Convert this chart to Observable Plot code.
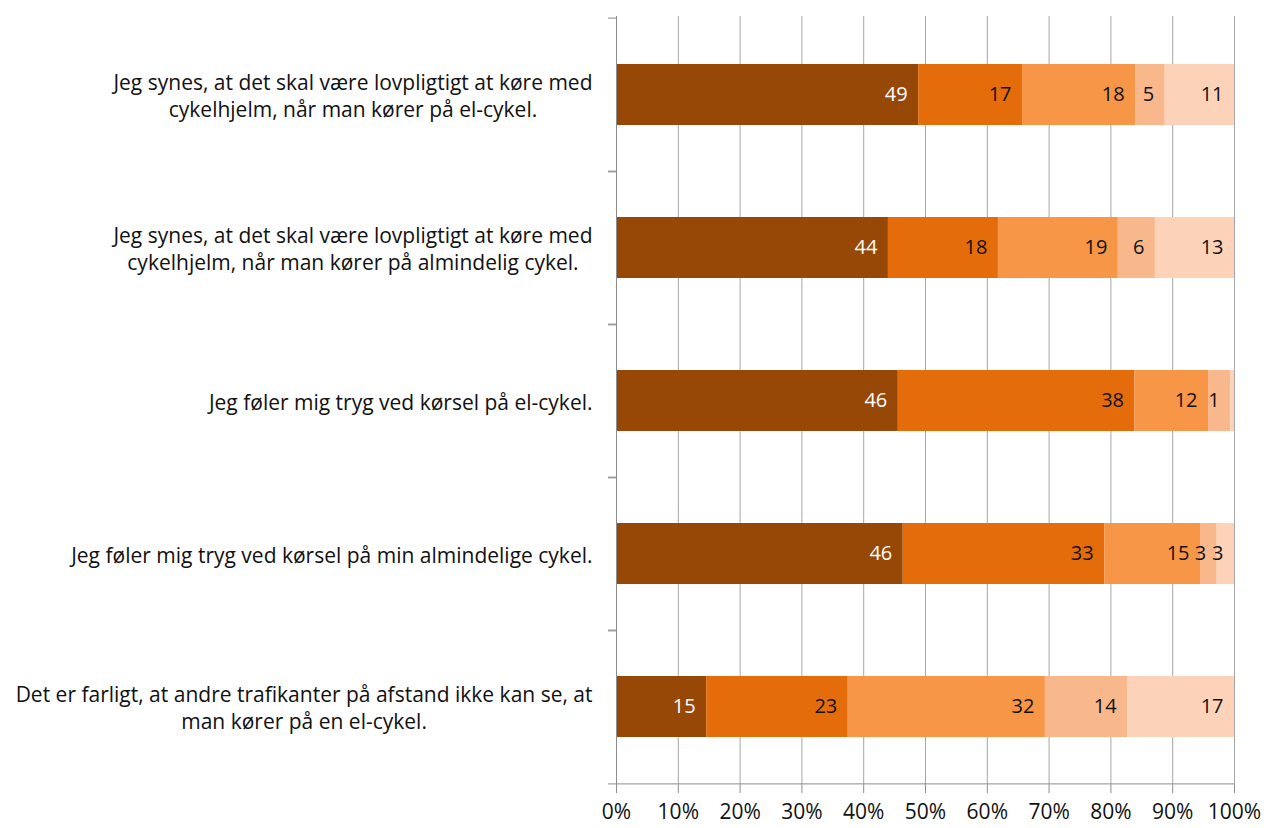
<!DOCTYPE html>
<html><head><meta charset="utf-8">
<script src="https://cdn.jsdelivr.net/npm/d3@7"></script>
<script src="https://cdn.jsdelivr.net/npm/@observablehq/plot@0.6"></script>
<style>body{margin:0;background:#fff;}</style>
</head><body><div id="chart"></div>
<script>
const categories = [
  "Jeg synes, at det skal være lovpligtigt at køre med\ncykelhjelm, når man kører på el-cykel.",
  "Jeg synes, at det skal være lovpligtigt at køre med\ncykelhjelm, når man kører på almindelig cykel.",
  "Jeg føler mig tryg ved kørsel på el-cykel.",
  "Jeg føler mig tryg ved kørsel på min almindelige cykel.",
  "Det er farligt, at andre trafikanter på afstand ikke kan se, at\nman kører på en el-cykel."
];
const seriesKeys = ["s1", "s2", "s3", "s4", "s5"];
const seriesColors = ["#974706", "#E46C0A", "#F79646", "#F9B88C", "#FCD3B8"];

// segment shares (percent of bar)
const s1 = [48.9, 44.0, 45.6, 46.4, 14.6];
const s2 = [16.8, 17.8, 38.3, 32.6, 22.9];
const s3 = [18.3, 19.4, 11.9, 15.5, 31.9];
const s4 = [4.8, 6.0, 3.6, 2.7, 13.3];
const s5 = [11.2, 12.8, 0.6, 2.8, 17.3];

// printed data labels
const l1 = [49, 44, 46, 46, 15];
const l2 = [17, 18, 38, 33, 23];
const l3 = [18, 19, 12, 15, 32];
const l4 = [5, 6, 1, 3, 14];
const l5 = [11, 13, null, 3, 17];

const xTicks = [0, 10, 20, 30, 40, 50, 60, 70, 80, 90, 100];

const values = [s1, s2, s3, s4, s5];
const labels = [l1, l2, l3, l4, l5];
const rows = categories.flatMap((c, i) => seriesKeys.map((k, j) => ({
  category: c, series: k, value: values[j][i], label: labels[j][i]
})));

const W = 1268, H = 828, mL = 616, mR = 34, mT = 16, mB = 43;
const step = (H - mT - mB) / categories.length;
const axisColor = "#8c8c8c";
const family = "Open Sans";

// size the category font so the longest line spans the same width as in the reference
const ctx = document.createElement("canvas").getContext("2d");
ctx.font = `20px '${family}'`;
const longest = d3.max(categories.flatMap(c => c.split("\n")), l => ctx.measureText(l).width);
const catFont = Math.min(21, 20 * 580 / longest);
ctx.font = `${catFont}px '${family}'`;
const blockWidth = c => d3.max(c.split("\n"), l => ctx.measureText(l).width);

const catMarks = categories.map(c => Plot.text([c], {
  y: d => d, text: d => d, frameAnchor: "left", textAnchor: "middle",
  dx: -(24 + blockWidth(c) / 2), lineHeight: 1.27, fontSize: catFont, fill: "#111"
}));

const chart = Plot.plot({
  width: W, height: H,
  marginLeft: mL, marginRight: mR, marginTop: mT, marginBottom: mB,
  style: {fontFamily: family, fontSize: "20px", background: "#fff", color: "#111"},
  x: {domain: [0, 100], ticks: xTicks, tickFormat: d => d + "%"},
  y: {domain: categories, paddingInner: 0.6, paddingOuter: 0.3, axis: null},
  color: {domain: seriesKeys, range: seriesColors},
  marks: [
    Plot.gridX(xTicks, {stroke: "#a6a6a6", strokeOpacity: 1}),
    Plot.barX(rows, Plot.stackX({x: "value", y: "category", fill: "series", order: null})),
    Plot.text(rows, Plot.stackX2({x: "value", y: "category", order: null,
      text: d => d.series === "s1" ? d.label : null,
      textAnchor: "end", dx: -11, fill: "white", fontSize: 20})),
    Plot.text(rows, Plot.stackX2({x: "value", y: "category", order: null,
      text: d => d.series !== "s1" ? d.label : null,
      textAnchor: "end", dx: -11, fill: "#111", fontSize: 20})),
    Plot.ruleX([0], {stroke: axisColor}),
    Plot.ruleY([categories[categories.length - 1]], {dy: step / 2, stroke: axisColor}),
    Plot.axisY({tickSize: 8, text: null, label: null, dy: -step / 2, stroke: axisColor}),
    Plot.axisY({tickSize: 8, text: null, label: null, dy: step / 2, stroke: axisColor}),
    Plot.axisX({ticks: xTicks, tickFormat: d => d + "%", tickSize: 8, tickPadding: 11,
      stroke: axisColor, fill: "#111", fontSize: 21, label: null}),
    ...catMarks
  ]
});
document.getElementById("chart").appendChild(chart);
</script>
</body></html>
